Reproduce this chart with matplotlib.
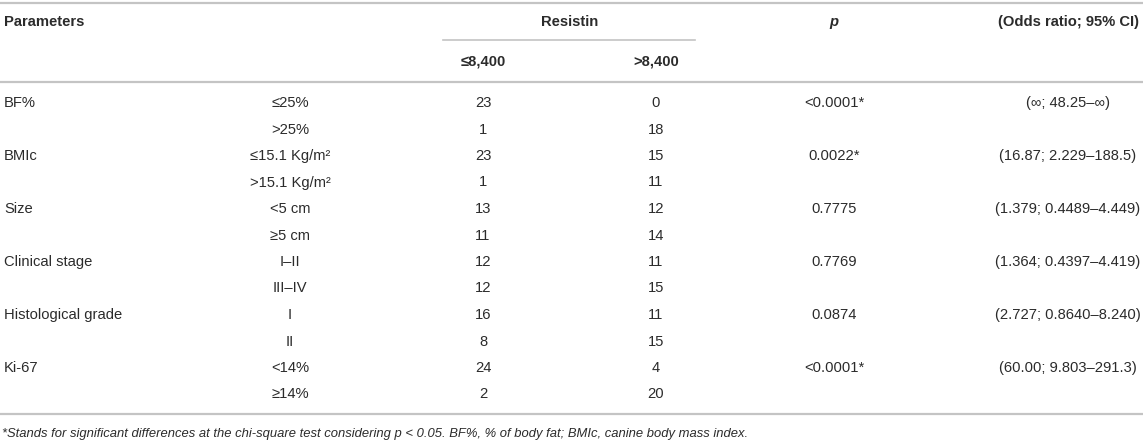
import matplotlib.pyplot as plt

params = ["BF%", "", "BMIc", "", "Size", "", "Clinical stage", "",
          "Histological grade", "", "Ki-67", ""]
groups = ["≤25%", ">25%", "≤15.1 Kg/m²", ">15.1 Kg/m²", "<5 cm", "≥5 cm",
          "I–II", "III–IV", "I", "II", "<14%", "≥14%"]
low_resistin = [23, 1, 23, 1, 13, 11, 12, 12, 16, 8, 24, 2]
high_resistin = [0, 18, 15, 11, 12, 14, 11, 15, 11, 15, 4, 20]
p_values = ["<0.0001*", "", "0.0022*", "", "0.7775", "", "0.7769", "",
            "0.0874", "", "<0.0001*", ""]
odds = ["(∞; 48.25–∞)", "", "(16.87; 2.229–188.5)", "", "(1.379; 0.4489–4.449)", "",
        "(1.364; 0.4397–4.419)", "", "(2.727; 0.8640–8.240)", "",
        "(60.00; 9.803–291.3)", ""]
footnote = ("*Stands for significant differences at the chi-square test considering "
            "p < 0.05. BF%, % of body fat; BMIc, canine body mass index.")

W, H = 1143, 442
plt.rcParams['font.family'] = ['Liberation Sans', 'DejaVu Sans']
fig = plt.figure(figsize=(W / 100, H / 100), dpi=100)
ax = fig.add_axes([0, 0, 1, 1])
ax.set_xlim(0, W)
ax.set_ylim(H, 0)
ax.axis('off')

txt = '#2b2b2b'
line_c = '#c4c4c4'
fs = 10.6

# column positions (pixels)
x_param, x_grp, x_low, x_high, x_p, x_or = 4, 290, 483, 656, 834, 1068

# rules
ax.plot([0, W], [3, 3], color=line_c, lw=1.6)
ax.plot([443, 695], [40, 40], color=line_c, lw=1.2)
ax.plot([0, W], [82, 82], color=line_c, lw=1.6)
ax.plot([0, W], [414, 414], color=line_c, lw=1.6)

# header
hkw = dict(fontsize=fs, fontweight='bold', color=txt, va='center')
ax.text(x_param, 22, "Parameters", ha='left', **hkw)
ax.text((x_low + x_high) / 2, 22, "Resistin", ha='center', **hkw)
ax.text(x_low, 61, "≤8,400", ha='center', **hkw)
ax.text(x_high, 61, ">8,400", ha='center', **hkw)
ax.text(x_p, 22, "p", ha='center', style='italic', **hkw)
ax.text(x_or, 22, "(Odds ratio; 95% CI)", ha='center', **hkw)

# body
row0, step = 103, 26.5
kw = dict(fontsize=fs, color=txt, va='center')
for i in range(len(groups)):
    y = row0 + i * step
    ax.text(x_param, y, params[i], ha='left', **kw)
    ax.text(x_grp, y, groups[i], ha='center', **kw)
    ax.text(x_low, y, str(low_resistin[i]), ha='center', **kw)
    ax.text(x_high, y, str(high_resistin[i]), ha='center', **kw)
    ax.text(x_p, y, p_values[i], ha='center', **kw)
    ax.text(x_or, y, odds[i], ha='center', **kw)

ax.text(2, 434, footnote, ha='left', va='center', fontsize=9.4,
        style='italic', color=txt)

fig.savefig('out.png', dpi=100)
